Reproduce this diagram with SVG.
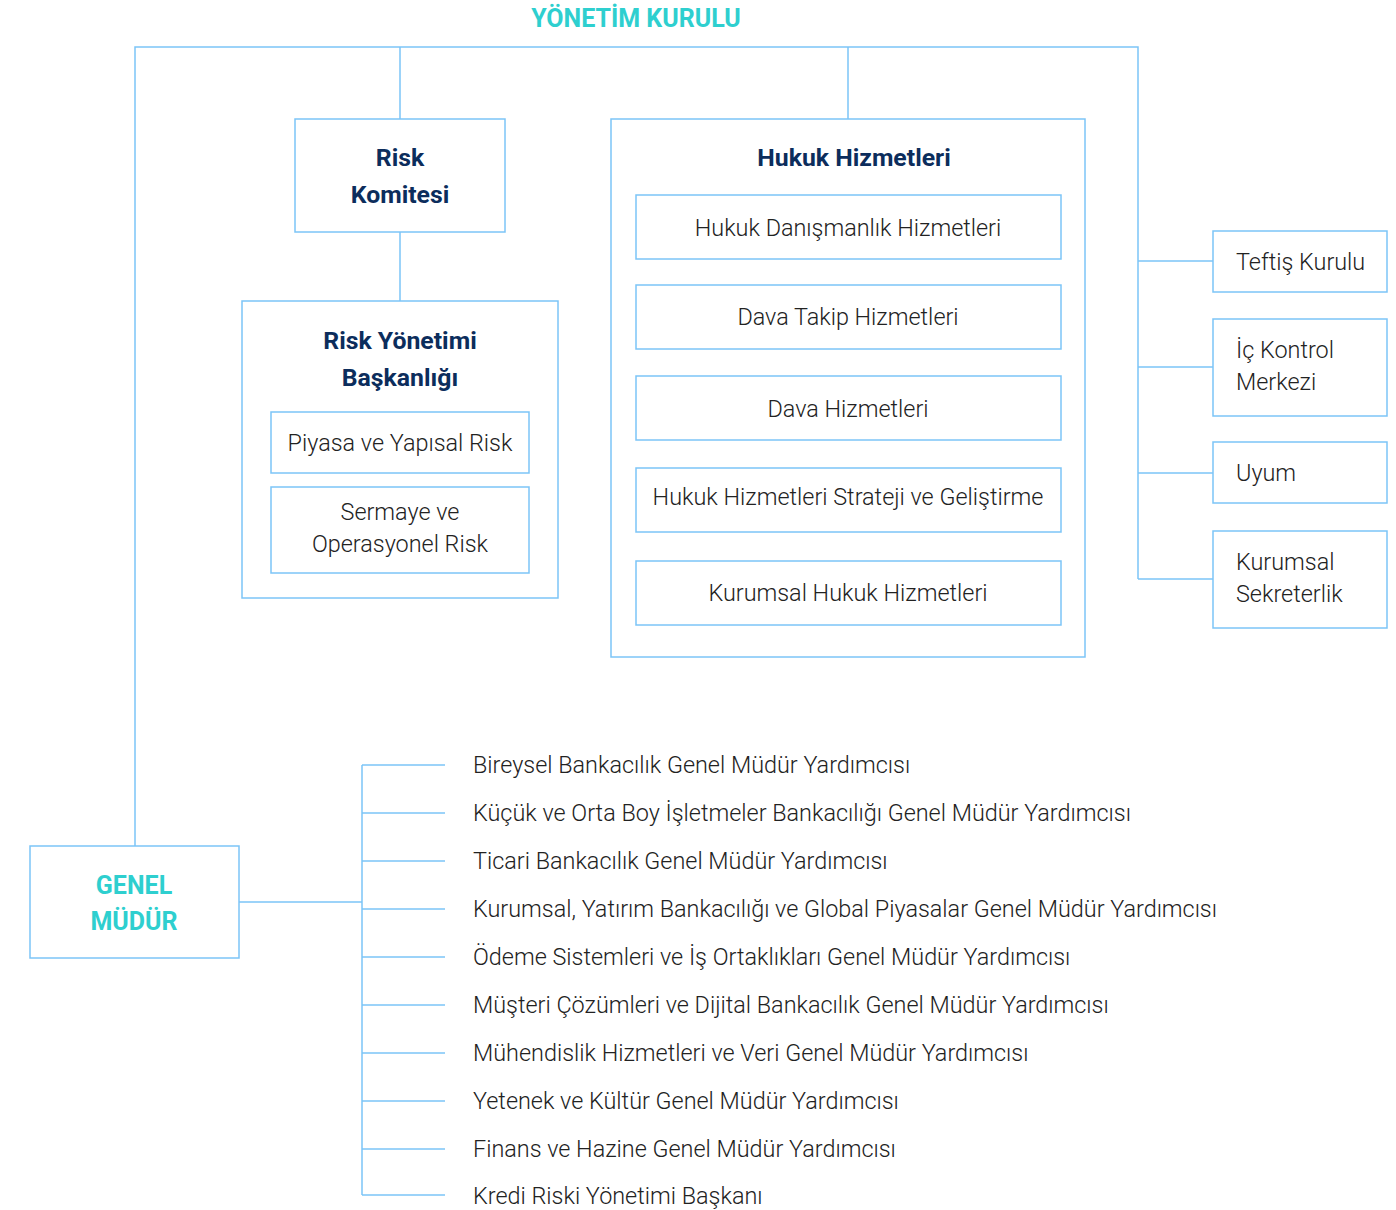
<svg xmlns="http://www.w3.org/2000/svg" width="1396" height="1210" viewBox="0 0 1396 1210">
<style>
.box{fill:#fff;stroke:#7cc5f7;stroke-width:1.5}
.ln{fill:none;stroke:#7cc5f7;stroke-width:1.5}
.t{font-family:Roboto,"Liberation Sans",sans-serif;font-weight:300;font-size:23.4px;fill:#222}
.c{text-anchor:middle}
.b{font-family:Roboto,"Liberation Sans",sans-serif;font-weight:700;font-size:24.8px;fill:#0c2d5c;text-anchor:middle}
.h{font-family:Roboto,"Liberation Sans",sans-serif;font-weight:700;font-size:25px;fill:#2ecfcf;text-anchor:middle}
</style>
<rect width="1396" height="1210" fill="#fff"/>
<g id="connectors">
<path class="ln" d="M135 846V47H1138V579M400 47V119M400 232V301M848 47V119M1138 261H1213M1138 367H1213M1138 473H1213M1138 579H1213M239 902H362M362 765V1195M362 765H445M362 813H445M362 861H445M362 909H445M362 957H445M362 1005H445M362 1053H445M362 1101H445M362 1149H445M362 1195H445"/>
</g>
<g id="yonetim-kurulu"><text class="h" x="636" y="27">YÖNETİM KURULU</text></g>
<g id="risk-komitesi"><rect class="box" x="295" y="119" width="210" height="113"/><text class="b" x="400" y="166">Risk</text><text class="b" x="400" y="203">Komitesi</text></g>
<g id="risk-yonetimi"><rect class="box" x="242" y="301" width="316" height="297"/><text class="b" x="400" y="349">Risk Yönetimi</text><text class="b" x="400" y="386">Başkanlığı</text></g>
<g id="piyasa"><rect class="box" x="271" y="412" width="258" height="61"/><text class="t c" x="400" y="451">Piyasa ve Yapısal Risk</text></g>
<g id="sermaye"><rect class="box" x="271" y="487" width="258" height="86"/><text class="t c" x="400" y="520">Sermaye ve</text><text class="t c" x="400" y="552">Operasyonel Risk</text></g>
<g id="hukuk"><rect class="box" x="611" y="119" width="474" height="538"/><text class="b" x="854" y="166">Hukuk Hizmetleri</text></g>
<g id="hukuk-danismanlik"><rect class="box" x="636" y="195" width="425" height="64"/><text class="t c" x="848" y="236">Hukuk Danışmanlık Hizmetleri</text></g>
<g id="dava-takip"><rect class="box" x="636" y="285" width="425" height="64"/><text class="t c" x="848" y="325">Dava Takip Hizmetleri</text></g>
<g id="dava"><rect class="box" x="636" y="376" width="425" height="64"/><text class="t c" x="848" y="417">Dava Hizmetleri</text></g>
<g id="strateji"><rect class="box" x="636" y="468" width="425" height="64"/><text class="t c" x="848" y="505">Hukuk Hizmetleri Strateji ve Geliştirme</text></g>
<g id="kurumsal-hukuk"><rect class="box" x="636" y="561" width="425" height="64"/><text class="t c" x="848" y="601">Kurumsal Hukuk Hizmetleri</text></g>
<g id="teftis"><rect class="box" x="1213" y="231" width="174" height="61"/><text class="t" x="1236" y="270">Teftiş Kurulu</text></g>
<g id="ic-kontrol"><rect class="box" x="1213" y="319" width="174" height="97"/><text class="t" x="1236" y="358">İç Kontrol</text><text class="t" x="1236" y="390">Merkezi</text></g>
<g id="uyum"><rect class="box" x="1213" y="442" width="174" height="61"/><text class="t" x="1236" y="481">Uyum</text></g>
<g id="kurumsal-sekreterlik"><rect class="box" x="1213" y="531" width="174" height="97"/><text class="t" x="1236" y="570">Kurumsal</text><text class="t" x="1236" y="602">Sekreterlik</text></g>
<g id="genel-mudur"><rect class="box" x="30" y="846" width="209" height="112"/><text class="h" x="134" y="894">GENEL</text><text class="h" x="134" y="930">MÜDÜR</text></g>
<g id="gmy">
<text class="t" x="473" y="773">Bireysel Bankacılık Genel Müdür Yardımcısı</text>
<text class="t" x="473" y="821">Küçük ve Orta Boy İşletmeler Bankacılığı Genel Müdür Yardımcısı</text>
<text class="t" x="473" y="869">Ticari Bankacılık Genel Müdür Yardımcısı</text>
<text class="t" x="473" y="917">Kurumsal, Yatırım Bankacılığı ve Global Piyasalar Genel Müdür Yardımcısı</text>
<text class="t" x="473" y="965">Ödeme Sistemleri ve İş Ortaklıkları Genel Müdür Yardımcısı</text>
<text class="t" x="473" y="1013">Müşteri Çözümleri ve Dijital Bankacılık Genel Müdür Yardımcısı</text>
<text class="t" x="473" y="1061">Mühendislik Hizmetleri ve Veri Genel Müdür Yardımcısı</text>
<text class="t" x="473" y="1109">Yetenek ve Kültür Genel Müdür Yardımcısı</text>
<text class="t" x="473" y="1157">Finans ve Hazine Genel Müdür Yardımcısı</text>
<text class="t" x="473" y="1204">Kredi Riski Yönetimi Başkanı</text>
</g>
</svg>
